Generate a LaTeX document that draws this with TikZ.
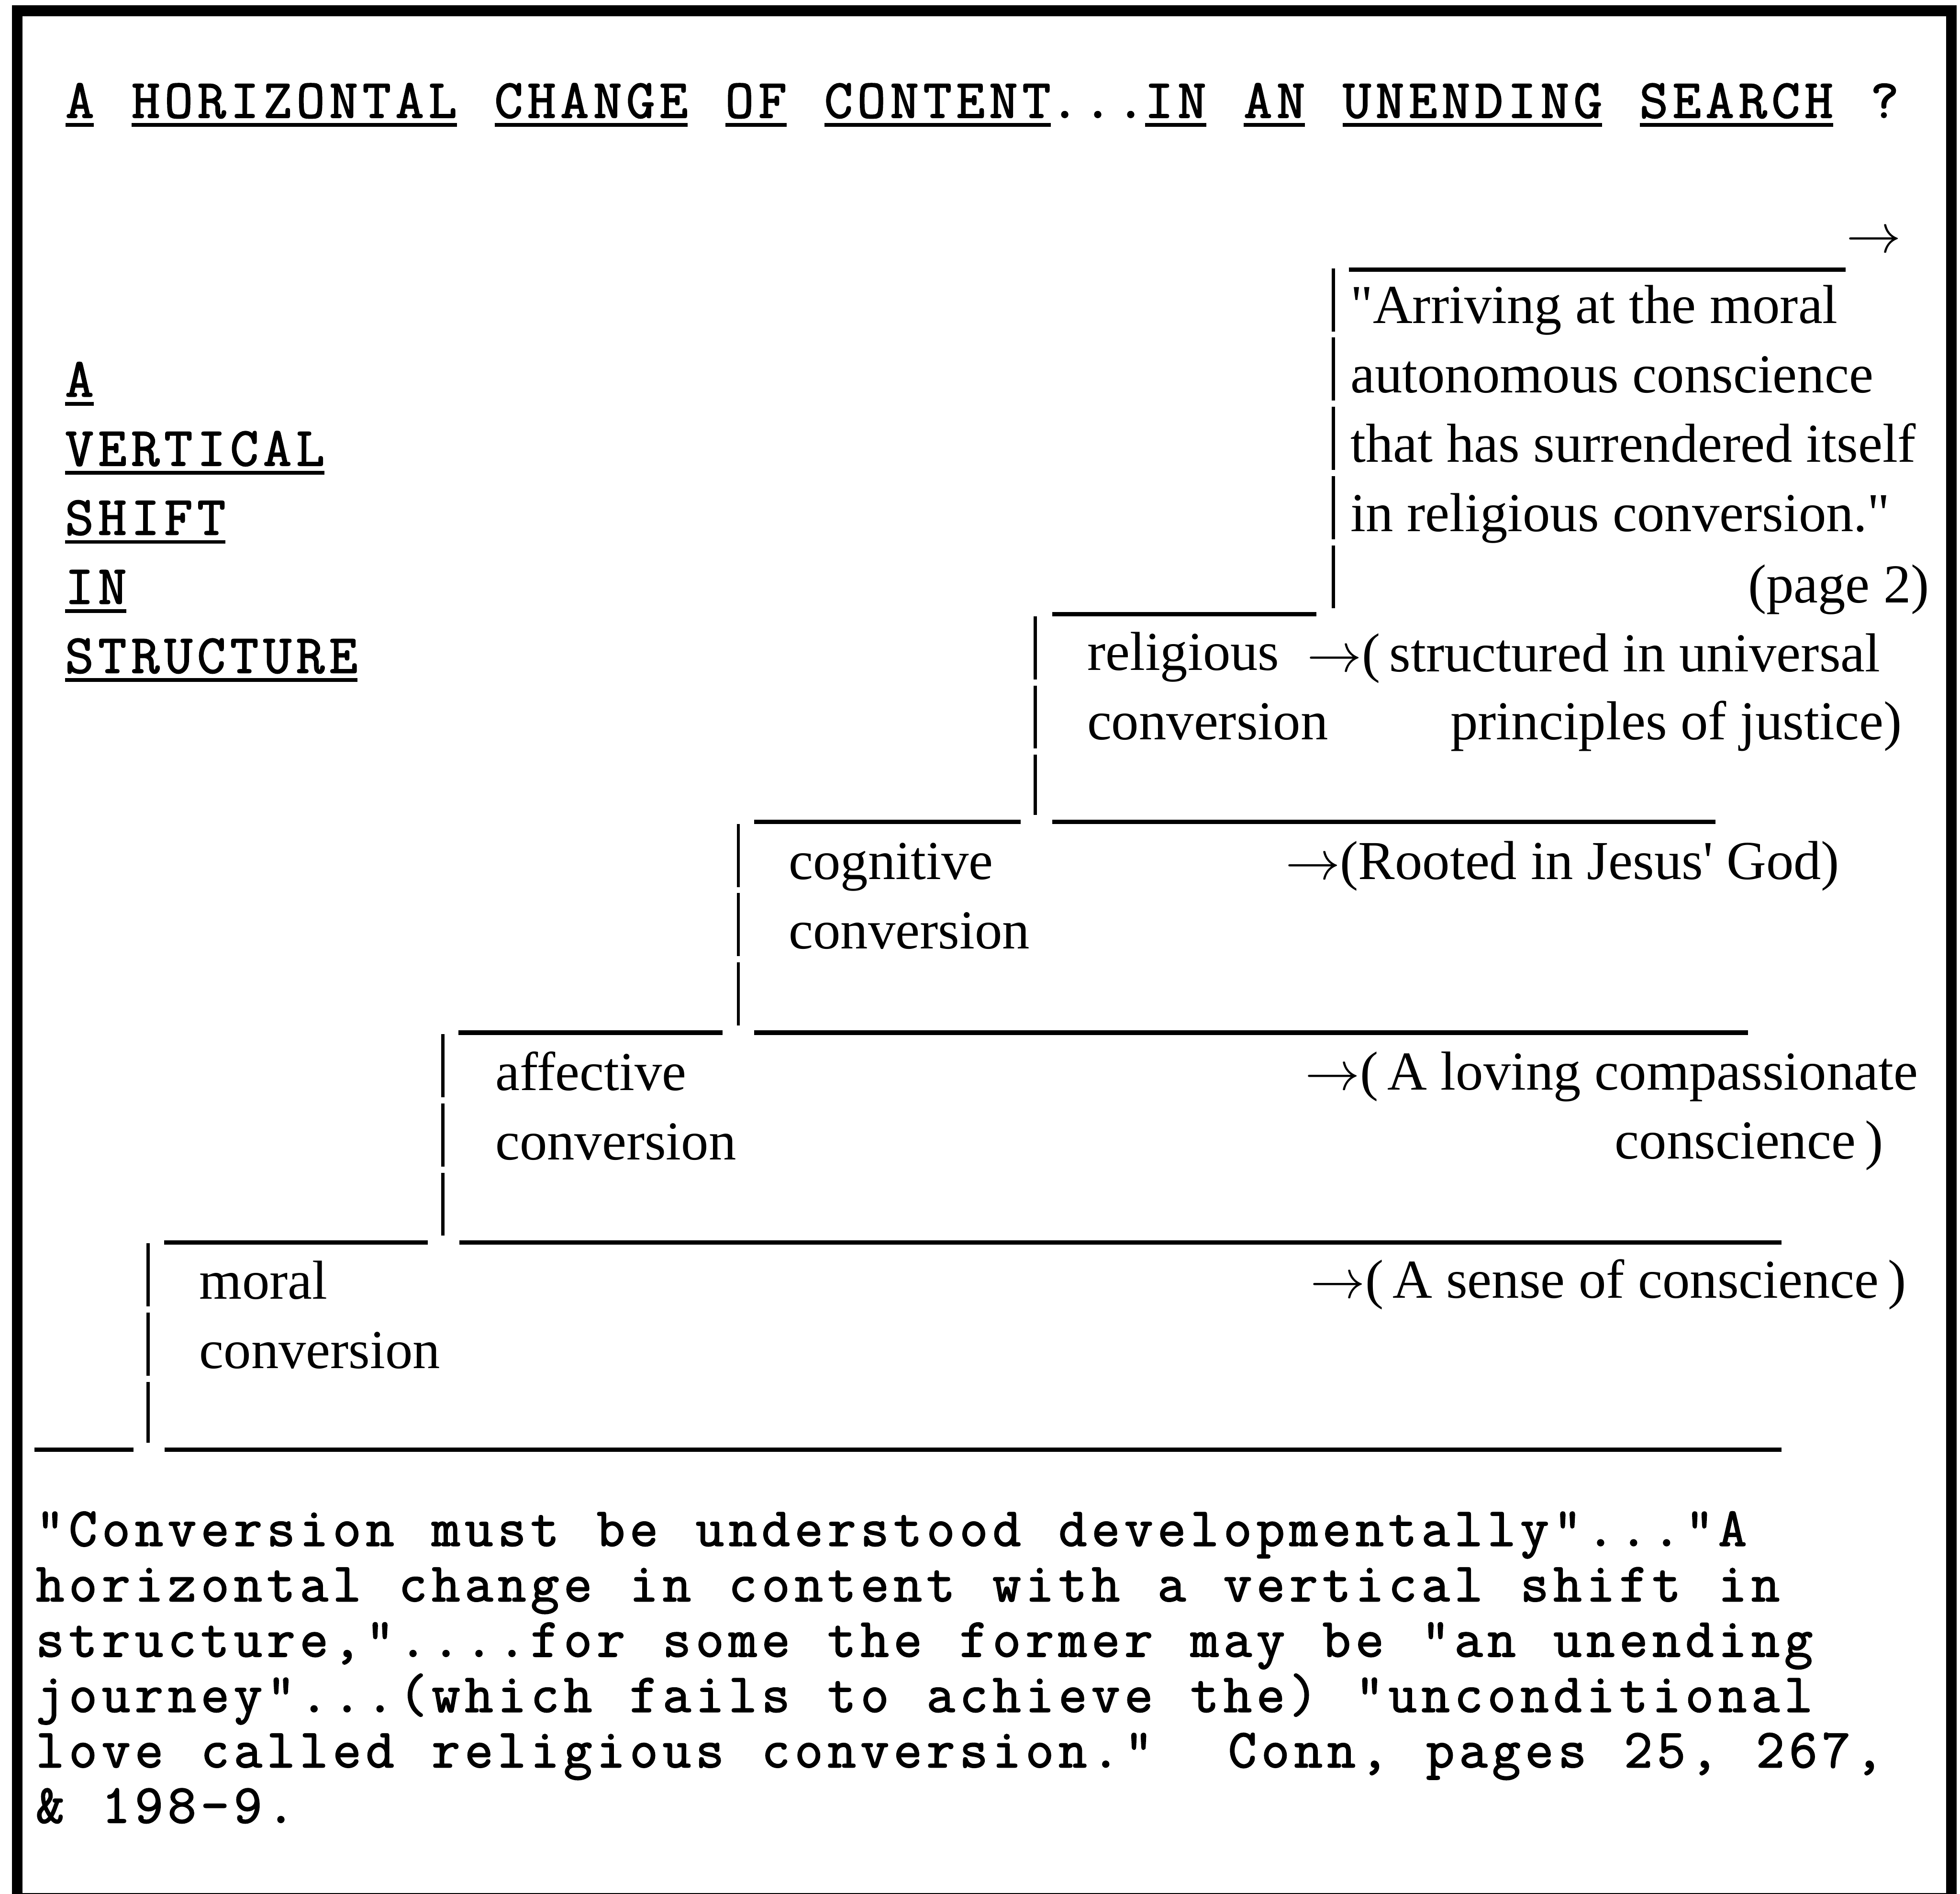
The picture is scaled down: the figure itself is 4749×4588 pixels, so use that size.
\documentclass[tikz,border=0pt]{standalone}
\usepackage{fontspec}
\setmainfont{Liberation Serif}[Ligatures=TeXOff]
\newfontfamily\typewriter{Latin Modern Mono}[Ligatures=TeXOff,LetterSpace=8.6,WordSpace={1.1429,0,0},FakeBold=2]
\usetikzlibrary{positioning}

% underline one word, rule a bit below the baseline
\newcommand\ulword[1]{\setbox0\hbox{#1}\rlap{\rule[-2pt]{\wd0}{0.8pt}}\box0\relax}

\tikzset{
  stepname/.style={inner sep=0pt,anchor=base west,align=left,font=\fontsize{12}{15.15}\selectfont},
  goal/.style={inner sep=0pt,anchor=base west,font=\fontsize{12}{15.15}\selectfont},
  typed/.style={inner sep=0pt,anchor=base west,align=left,font=\typewriter\fontsize{12}{12.1}\selectfont\frenchspacing},
  tread/.style={line width=0.95pt},
  riser/.style={line width=0.7pt,dash pattern=on 13.8pt off 1.35pt},
}

\begin{document}
\begin{tikzpicture}[x=0.09023pt,y=-0.09023pt]
    \useasboundingbox (0,0) rectangle (4749,4588);
    % frame, bottom edge runs off the page
    \draw[line width=2.35pt] (42,4600) -- (42,26) -- (4728,26) -- (4728,4600) -- cycle;

    \node[typed] (title) at (157,285) {\ulword{A} \ulword{HORIZONTAL} \ulword{CHANGE} \ulword{OF} \ulword{CONTENT}...\ulword{IN} \ulword{AN} \ulword{UNENDING} \ulword{SEARCH} ?};
    % multi-line nodes sit on the baseline of their last line
    \node[typed,font=\typewriter\fontsize{12}{15.1}\selectfont] (vshift) at (156,1630) {\ulword{A}\\\ulword{VERTICAL}\\\ulword{SHIFT}\\\ulword{IN}\\\ulword{STRUCTURE}};

    % the steps
    \node[stepname] (moral) at (481,3315) {moral\\conversion};
    \node[stepname] (affective) at (1198,2810) {affective\\conversion};
    \node[stepname] (cognitive) at (1909,2298) {cognitive\\conversion};
    \node[stepname] (religious) at (2632,1792) {religious\\conversion};
    \node[stepname] (arriving) at (3270,1287) {"Arriving at the moral\\autonomous conscience\\that has surrendered itself\\in religious conversion."};
    \node[goal,anchor=base east] (page) at (4677,1460) {(page 2)};

    % what each step leads to
    \node[goal] (sense) at (3173,3145) {$\rightarrow$(\,A sense of conscience\,)};
    \node[goal] (loving) at (3160,2640) {$\rightarrow$(\,A loving compassionate};
    \node[goal,anchor=base east] (lovingend) at (4565,2808) {conscience\,)};
    \node[goal] (rooted) at (3112,2130) {$\rightarrow$(Rooted in Jesus' God)};
    \node[goal] (justice) at (3165,1627) {$\rightarrow$(\,structured in universal};
    \node[goal,anchor=base east] (justiceend) at (4610,1792) {principles of justice)};
    \node[goal,anchor=center] (onward) at (4540,587) {$\rightarrow$};

    % treads
    \draw[tread] (83,3512) -- (323,3512);
    \draw[tread] (399,3512) -- (4316,3512);
    \draw[tread] (398,3010) -- (1037,3010);
    \draw[tread] (1113,3010) -- (4316,3010);
    \draw[tread] (1111,2502) -- (1751,2502);
    \draw[tread] (1827,2502) -- (4235,2502);
    \draw[tread] (1827,1991) -- (2473,1991);
    \draw[tread] (2550,1991) -- (4156,1991);
    \draw[tread] (2550,1488) -- (3190,1488);
    \draw[tread] (3268,653) -- (4472,653);
    % risers
    \foreach \x/\ytop/\ybot in {359/3012/3496, 1073/2506/2994, 1789/1996/2485, 2508/1493/1975, 3231/650/1474}
      \draw[riser] (\x,\ytop) -- (\x,\ybot);

    \node[typed] (conn) at (85,4416) {"Conversion must be understood developmentally"..."A\\
horizontal change in content with a vertical shift in\\
structure,"....for some the former may be "an unending\\
journey"...(which fails to achieve the) "unconditional\\
love called religious conversion."~ Conn, pages 25, 267,\\
\& 198-9.};
\end{tikzpicture}
\end{document}
